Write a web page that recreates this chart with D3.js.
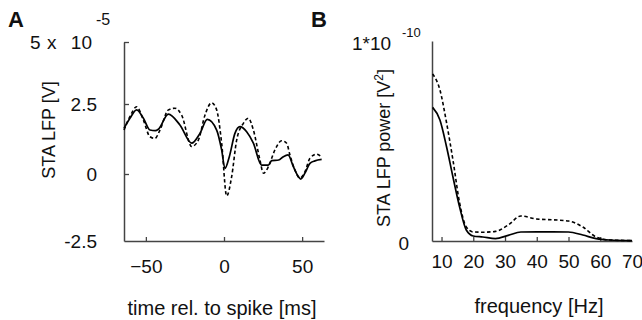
<!DOCTYPE html>
<html><head><meta charset="utf-8">
<script src="https://cdn.jsdelivr.net/npm/d3@7"></script>
<style>
body{margin:0;background:#fff;}
text{font-family:"Liberation Sans",Arial,sans-serif;fill:#111;}
</style></head>
<body><svg id="c" width="642" height="320"></svg>
<script>
// Panel A: spike-triggered average LFP (x 1e-5 V) vs time (ms)
const timeSolid = [-64,-60.2,-55.9,-51.6,-47.4,-44,-42,-35.6,-28.2,-20.7,-15.4,-10.7,-4.7,-1.5,0.6,3.4,7,10.2,14.5,18.8,24,28.4,30.5,35,38,41,44.4,47.6,49.1,51.8,55,58.2,62.5];
const valSolid  = [1.63,1.99,2.29,1.99,1.57,1.55,1.6,2.14,1.75,1.1,1.45,1.95,1.57,0.86,0.2,0.62,1.45,1.69,1.51,1.1,0.32,0.32,0.48,0.5,0.62,0.68,0.26,-0.1,-0.19,0.03,0.38,0.47,0.52];
const timeDashed = [-64,-60.2,-55.9,-51.6,-47.4,-44.2,-41,-35.6,-31.4,-27.1,-20.7,-16.4,-12.2,-7.9,-4.7,-1.5,1.7,4.9,8.1,12.4,15.6,18.8,23,25.2,28.4,32.6,36.9,40.1,42.2,45.4,48.6,51.8,55,59.3,62.5];
const valDashed  = [1.57,2.05,2.4,1.93,1.33,1.27,1.57,2.29,2.35,2.1,0.98,1.21,2.1,2.55,2.29,1.1,-0.82,-0.1,1.21,1.81,1.99,1.57,0.5,0.03,0.26,0.86,1.19,1.1,0.68,0.14,-0.15,0.08,0.56,0.71,0.6];
const tickTimeA = [-50,0,50];
const tickValA  = [-2.5,0,2.5,5];

// Panel B: STA LFP power (x 1e-10 V^2) vs frequency (Hz)
const freqB       = [7.2,9.5,11.6,13.6,15.7,17.8,20,23,27,31,35,40,45,50,54.5,58.7,63,70];
const powerSolid  = [0.668,0.605,0.47,0.32,0.17,0.055,0.025,0.02,0.012,0.028,0.045,0.046,0.046,0.045,0.03,0.012,0.005,0.002];
const powerDashed = [0.835,0.755,0.59,0.405,0.19,0.07,0.045,0.044,0.048,0.08,0.125,0.11,0.106,0.1,0.07,0.02,0.005,0.002];
const tickFreqB = [10,20,30,40,50,60,70];
const tickPowB  = [0,1];

const svg = d3.select("#c");
const AX = "#444";

// ---------- Panel A ----------
const xA = d3.scaleLinear().domain([-64,64]).range([124,324]);
const yA = d3.scaleLinear().domain([-2.5,0,2.5,5]).range([241,174,104,42]);

const gA = svg.append("g");
const axA_x = gA.append("g").attr("transform","translate(0,241)")
  .call(d3.axisBottom(xA).tickValues(tickTimeA).tickSizeInner(-4).tickSizeOuter(0).tickPadding(19).tickFormat(d3.format("d")));
const axA_y = gA.append("g").attr("transform","translate(124,0)")
  .call(d3.axisLeft(yA).tickValues(tickValA).tickSizeInner(-5).tickSizeOuter(0).tickPadding(27).tickFormat(d => d===5 ? "" : String(d)));
[axA_x, axA_y].forEach(a => {
  a.select(".domain").attr("stroke",AX).attr("stroke-width",1.5);
  a.selectAll(".tick line").attr("stroke",AX).attr("stroke-width",1.3);
  a.selectAll(".tick text").attr("font-size",19).attr("fill","#111").style("font-family","Liberation Sans, Arial, sans-serif");
});
axA_y.selectAll(".tick").filter(d => d===-2.5).select("line").remove();

const lineA = d3.line().x(d=>xA(d[0])).y(d=>yA(d[1])).curve(d3.curveMonotoneX);
gA.append("path").datum(d3.zip(timeDashed,valDashed)).attr("d",lineA)
  .attr("fill","none").attr("stroke","#000").attr("stroke-width",1.6).attr("stroke-dasharray","3.5,2.5");
gA.append("path").datum(d3.zip(timeSolid,valSolid)).attr("d",lineA)
  .attr("fill","none").attr("stroke","#000").attr("stroke-width",1.7);

// top-left multiplier label
gA.append("text").attr("x",30).attr("y",yA(5)+7).attr("font-size",19).text("5");
gA.append("text").attr("x",47).attr("y",yA(5)+7).attr("font-size",19).text("x");
gA.append("text").attr("x",92).attr("y",yA(5)+7).attr("font-size",19).attr("text-anchor","end").text("10");
gA.append("text").attr("x",96).attr("y",25).attr("font-size",16).text("-5");

gA.append("text").attr("transform","translate(55,130) rotate(-90)").attr("text-anchor","middle")
  .attr("font-size",18).text("STA LFP [V]");
gA.append("text").attr("x",222).attr("y",315).attr("text-anchor","middle").attr("font-size",20)
  .text("time rel. to spike [ms]");
gA.append("text").attr("x",8).attr("y",27).attr("font-size",22).attr("font-weight","bold").text("A");

// ---------- Panel B ----------
const xB = d3.scaleLinear().domain([7,70]).range([432,632]);
const yB = d3.scaleLinear().domain([0,1]).range([241,41]);

const gB = svg.append("g");
const axB_x = gB.append("g").attr("transform","translate(0,241)")
  .call(d3.axisBottom(xB).tickValues(tickFreqB).tickSizeInner(-4).tickSizeOuter(0).tickPadding(14).tickFormat(d3.format("d")));
const axB_y = gB.append("g").attr("transform","translate(432,0)")
  .call(d3.axisLeft(yB).tickValues(tickPowB).tickSize(0).tickPadding(23).tickFormat(d => d===1 ? "" : String(d)));
[axB_x, axB_y].forEach(a => {
  a.select(".domain").attr("stroke",AX).attr("stroke-width",1.5);
  a.selectAll(".tick line").attr("stroke",AX).attr("stroke-width",1.3);
  a.selectAll(".tick text").attr("font-size",19).attr("fill","#111").style("font-family","Liberation Sans, Arial, sans-serif");
});
axB_x.selectAll(".tick").filter(d => d===70).select("line").remove();
axB_y.selectAll(".tick text").attr("dy","0.45em");

const lineB = d3.line().x(d=>xB(d[0])).y(d=>yB(d[1])).curve(d3.curveMonotoneX);
gB.append("path").datum(d3.zip(freqB,powerDashed)).attr("d",lineB)
  .attr("fill","none").attr("stroke","#000").attr("stroke-width",1.6).attr("stroke-dasharray","3.5,2.5");
gB.append("path").datum(d3.zip(freqB,powerSolid)).attr("d",lineB)
  .attr("fill","none").attr("stroke","#000").attr("stroke-width",1.7);

gB.append("text").attr("x",352).attr("y",50).attr("font-size",19).text("1*10");
gB.append("text").attr("x",402).attr("y",37).attr("font-size",13).text("-10");

const yl = gB.append("text").attr("transform","translate(390,148) rotate(-90)").attr("text-anchor","middle")
  .attr("font-size",18);
yl.append("tspan").text("STA LFP power [V");
yl.append("tspan").attr("font-size",12).attr("dy",-7).text("2");
yl.append("tspan").attr("dy",7).text("]");

gB.append("text").attr("x",539).attr("y",313).attr("text-anchor","middle").attr("font-size",20)
  .text("frequency [Hz]");
gB.append("text").attr("x",311).attr("y",27).attr("font-size",22).attr("font-weight","bold").text("B");
</script></body></html>
